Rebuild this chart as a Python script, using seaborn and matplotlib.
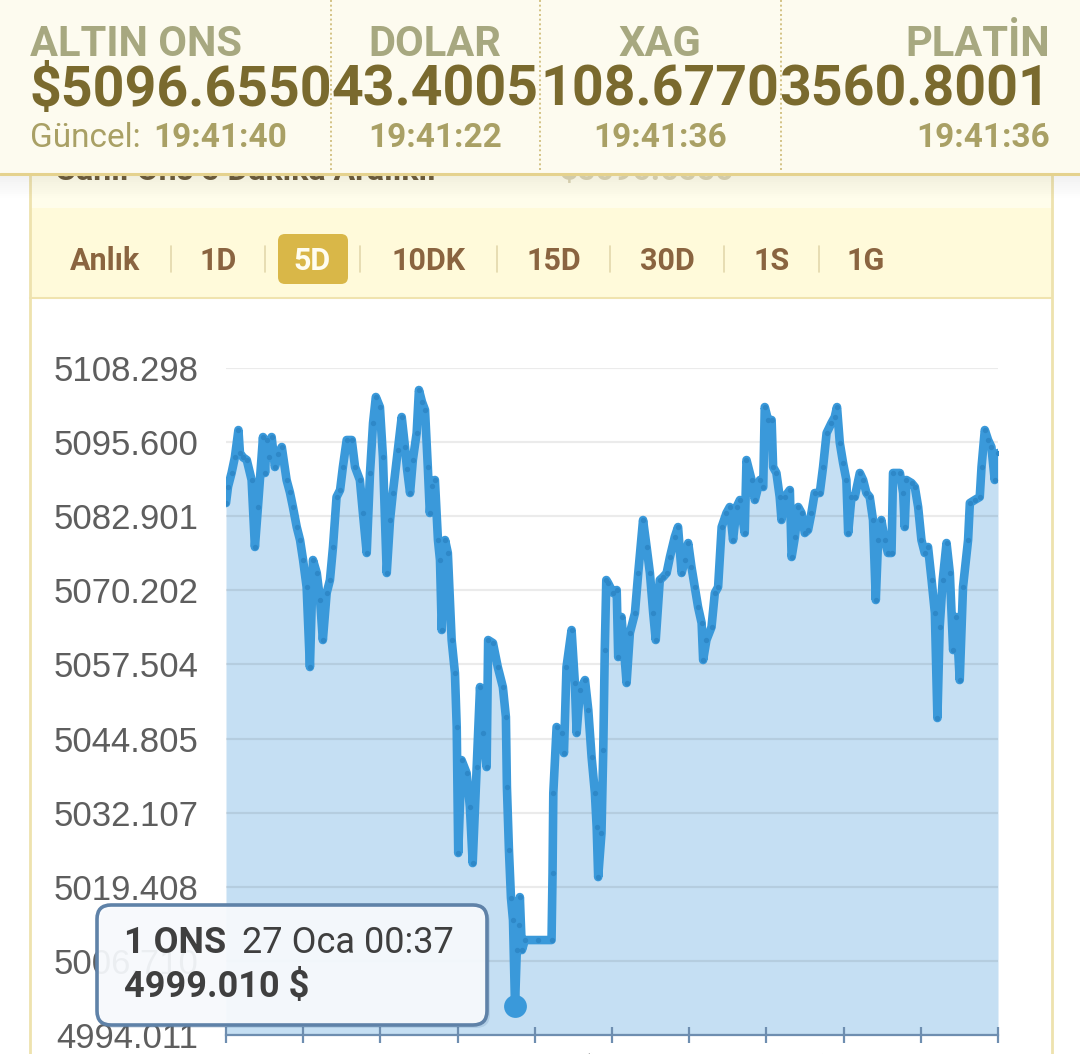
import numpy as np
import matplotlib.pyplot as plt
import seaborn as sns
from matplotlib.patches import Rectangle, FancyBboxPatch

# --- data (hours since 26 Oca 13:13, price in $) ---
hours = [
    0.00, 0.08, 0.22, 0.35, 0.49, 0.55, 0.67, 0.82, 1.01, 1.14,
    1.26, 1.46, 1.54, 1.60, 1.70, 1.80, 1.93, 2.05, 2.20, 2.39,
    2.52, 2.64, 2.79, 2.92, 3.04, 3.18, 3.31, 3.43, 3.58, 3.71,
    3.82, 3.97, 4.10, 4.22, 4.36, 4.50, 4.61, 4.76, 4.96, 5.09,
    5.28, 5.40, 5.55, 5.68, 5.80, 5.91, 6.07, 6.19, 6.34, 6.47,
    6.58, 6.78, 6.93, 7.06, 7.14, 7.26, 7.37, 7.52, 7.61, 7.73,
    7.85, 7.96, 8.04, 8.12, 8.24, 8.36, 8.44, 8.51, 8.64, 8.75,
    8.90, 9.03,
    9.10, 9.16, 9.29, 9.49, 9.62, 9.73, 9.89, 10.02, 10.13, 10.28,
    10.34, 10.53, 10.72, 10.92, 11.04, 11.08, 11.16, 11.24, 11.32, 11.40,
    11.47, 11.55, 11.59, 11.67, 11.79, 12.30, 12.84, 12.88, 12.91, 13.04,
    13.24, 13.33, 13.43, 13.63, 13.76, 13.83, 13.96, 14.16, 14.29, 14.42,
    14.55, 14.62, 14.68, 14.81, 14.88, 14.94, 15.00, 15.07, 15.27, 15.41,
    15.47, 15.60, 15.80, 15.93, 16.13, 16.26, 16.45, 16.59, 16.72, 16.85,
    16.95, 17.11, 17.24, 17.38, 17.51, 17.70, 17.83, 17.97, 18.10, 18.23,
    18.36, 18.49, 18.62, 18.76, 18.82, 18.95, 19.15, 19.28, 19.41, 19.55,
    19.74, 19.87, 20.00, 20.14, 20.27, 20.46, 20.53, 20.73, 20.86, 21.06,
    21.19, 21.25, 21.38, 21.52, 21.58, 21.71, 21.84, 21.91, 22.04, 22.24,
    22.31, 22.44, 22.57, 22.70, 22.83, 22.96, 23.09, 23.22, 23.42, 23.55,
    23.69, 23.88, 24.01, 24.10, 24.21, 24.34, 24.47, 24.54, 24.67, 24.80,
    25.00, 25.13, 25.26, 25.39, 25.52, 25.63, 25.72, 25.85, 25.98, 26.11,
    26.25, 26.31, 26.58, 26.71, 26.77, 26.84, 27.04, 27.17, 27.30, 27.43,
    27.56, 27.69, 27.83, 27.96, 28.06, 28.15, 28.27, 28.42, 28.55, 28.68,
    28.81, 28.94, 29.07, 29.27, 29.34, 29.53, 29.73, 29.80, 29.93, 30.06,
    30.19, 30.32, 30.45,
]
price = [
    5085.16, 5087.96, 5090.31, 5093.00, 5097.67, 5093.73, 5093.00, 5092.53, 5089.11, 5077.63,
    5084.48, 5096.47, 5090.31, 5095.96, 5093.00, 5096.47, 5091.33, 5093.50, 5094.76, 5089.11,
    5087.00, 5084.48, 5081.05, 5078.82, 5075.40, 5070.77, 5057.06, 5075.40, 5073.17, 5068.54,
    5061.69, 5069.74, 5071.97, 5077.63, 5086.19, 5087.39, 5091.33, 5095.96, 5095.96, 5091.33,
    5089.11, 5083.45, 5076.60, 5090.31, 5098.87, 5103.33, 5101.61, 5093.05, 5073.17, 5082.25,
    5086.88, 5094.25, 5099.90, 5094.76, 5091.00, 5086.88, 5092.53, 5097.16, 5104.53, 5102.50,
    5101.10, 5091.33, 5083.45, 5088.00, 5089.11, 5078.82, 5075.40, 5063.40, 5078.82, 5076.60,
    5061.69, 5056.03,
    5046.78, 5025.19, 5041.12, 5038.89, 5033.07, 5023.47, 5039.92, 5053.63, 5045.75, 5039.92,
    5061.69, 5061.17, 5057.06, 5053.63, 5048.49, 5036.50, 5025.70, 5017.50, 5013.70, 4999.01,
    5008.56, 5012.85, 5017.64, 5008.56, 5010.28, 5010.28, 5010.28, 5021.76, 5035.47, 5046.78,
    5045.75, 5042.32, 5057.06, 5063.40, 5054.32, 5045.75, 5053.12, 5054.83, 5049.69, 5041.64,
    5035.47, 5029.64, 5021.07, 5028.61, 5042.84, 5059.97, 5071.97, 5071.46, 5069.74, 5070.26,
    5058.77, 5065.63, 5054.32, 5062.89, 5066.31, 5073.17, 5082.25, 5077.63, 5073.17, 5066.31,
    5061.69, 5071.97, 5072.48, 5073.17, 5075.91, 5079.34, 5081.05, 5073.17, 5075.40, 5078.31,
    5074.20, 5070.77, 5067.34, 5064.60, 5058.26, 5061.69, 5063.91, 5069.74, 5070.77, 5081.05,
    5083.45, 5084.48, 5078.82, 5084.48, 5085.68, 5080.02, 5092.53, 5089.11, 5085.68, 5089.11,
    5087.90, 5101.61, 5099.39, 5099.39, 5091.33, 5090.31, 5086.19, 5082.25, 5086.19, 5087.39,
    5075.91, 5079.34, 5084.48, 5083.45, 5080.02, 5080.54, 5083.45, 5086.88, 5086.88, 5091.33,
    5097.16, 5098.87, 5099.90, 5101.61, 5095.45, 5092.02, 5089.11, 5080.02, 5086.19, 5086.19,
    5090.31, 5089.11, 5086.88, 5086.19, 5082.25, 5068.54, 5078.82, 5082.25, 5078.82, 5076.60,
    5076.60, 5090.31, 5090.31, 5086.88, 5081.05, 5089.11, 5088.59, 5087.90, 5084.48, 5078.82,
    5076.60, 5077.63, 5071.97, 5066.31, 5048.32, 5063.91, 5072.00, 5078.31, 5073.17, 5059.97,
    5065.63, 5054.83, 5070.77, 5078.82, 5085.16, 5085.68, 5086.19, 5091.33, 5097.67, 5095.96,
    5094.76, 5089.11, 5093.73,
]
y_ticks = [5108.298, 5095.600, 5082.901, 5070.202, 5057.504,
           5044.805, 5032.107, 5019.408, 5006.710, 4994.011]
x_tick_labels = ["13:13", "16:16", "19:18", "22:21", "01:24", "04:27",
                 "07:29", "10:32", "13:35", "16:38", "19:40"]
min_hour, min_price = 11.40, 4999.010
tip_time = "27 Oca 00:37"

names = ["ALTIN ONS", "DOLAR", "XAG", "PLATİN"]
values = ["$5096.6550", "43.4005", "108.6770", "3560.8001"]
times = ["19:41:40", "19:41:22", "19:41:36", "19:41:36"]
tabs = ["Anlık", "1D", "5D", "10DK", "15D", "30D", "1S", "1G"]
active_tab = "5D"

sns.set_theme(style="white")
plt.rcParams['font.family'] = ['Roboto', 'DejaVu Sans']

W, H = 1080, 1054
fig = plt.figure(figsize=(W / 100, H / 100), dpi=100)
fig.patch.set_facecolor('white')

# background layer (pixel coords, y down)
bg = fig.add_axes([0, 0, 1, 1], zorder=0)
bg.set_xlim(0, W)
bg.set_ylim(H, 0)
bg.axis('off')

bg.add_patch(Rectangle((30, 140), 1022, 68, fc='#FFFDEB', ec='none'))
bg.add_patch(Rectangle((30, 208), 1022, 90, fc='#FFFADA', ec='none'))
bg.plot([30, 1052], [298, 298], color='#F0E3AE', lw=1.5)
bg.plot([30, 30], [140, H], color='#EEE2AE', lw=2)
bg.plot([1052, 1052], [140, H], color='#EEE2AE', lw=2)
bg.text(55, 180, "Canlı Ons 5 Dakika Aralıklı", fontsize=23, weight='bold',
        color='#6E5E3E', va='baseline')
bg.text(560, 180, "$5096.6550", fontsize=23, weight='bold',
        color='#DDD6B4', va='baseline')

tab_x = [105, 218, 312, 429, 554, 667, 772, 866]
sep_x = [171, 265, 360, 497, 610, 724, 819]
for sx in sep_x:
    bg.plot([sx, sx], [246, 272], color='#E3D8AC', lw=1.2)
for t, tx in zip(tabs, tab_x):
    if t == active_tab:
        bg.add_patch(FancyBboxPatch((278, 234), 70, 50,
                                    boxstyle='round,pad=0,rounding_size=7',
                                    fc='#D9B748', ec='none'))
        col = '#FFFDF0'
    else:
        col = '#8A6440'
    bg.text(tx, 270, t, fontsize=22, weight='bold', color=col,
            ha='center', va='baseline')

# chart
ax = fig.add_axes([226 / W, 1 - 1035 / H, 772 / W, 667 / H], zorder=1)
ax.patch.set_alpha(0)
ax.fill_between(hours, price, y_ticks[-1], color='#C5DFF3', lw=0, zorder=1)
sns.lineplot(x=hours, y=price, ax=ax, color='#3A99DA', lw=6.2, marker='o',
             markersize=3.8, markerfacecolor='#2E88C8', markeredgewidth=0,
             zorder=3)
ax.scatter([min_hour], [min_price], s=270, color='#3A99DA', zorder=5,
           clip_on=False, linewidths=0)

ax.set_xlim(0, hours[-1])
ax.set_ylim(y_ticks[-1], y_ticks[0])
ax.set_yticks(y_ticks)
ax.set_yticklabels([f"{v:.3f}" for v in y_ticks])
ax.set_xticks(np.linspace(0, hours[-1], len(x_tick_labels)))
ax.set_xticklabels(x_tick_labels, rotation=45, ha='right')
ax.set_xlabel('')
ax.set_ylabel('')
ax.grid(axis='y', color='#000000', alpha=0.08, lw=1.6)
ax.grid(axis='x', visible=False)
ax.set_axisbelow('line')
for s in ['top', 'left', 'right']:
    ax.spines[s].set_visible(False)
ax.spines['bottom'].set_color('#6E8EB0')
ax.spines['bottom'].set_linewidth(1.6)
ax.tick_params(axis='y', length=0, pad=20, labelsize=25, labelcolor='#5E5E5E')
ax.tick_params(axis='x', direction='inout', length=11.5, width=1.6,
               color='#6E8EB0', pad=5, labelsize=22, labelcolor='#777777',
               bottom=True)
for lab in ax.get_yticklabels() + ax.get_xticklabels():
    lab.set_fontfamily('Liberation Sans')

# overlay layer: header + tooltip
ov = fig.add_axes([0, 0, 1, 1], zorder=2)
ov.set_xlim(0, W)
ov.set_ylim(H, 0)
ov.axis('off')
ov.patch.set_alpha(0)

for i in range(12):
    ov.add_patch(Rectangle((0, 174 + 2 * i), W, 2, fc='black', ec='none',
                           alpha=0.055 * (1 - i / 12)))
ov.add_patch(Rectangle((0, 0), W, 173, fc='#FDFBEF', ec='none'))
ov.plot([0, W], [173.5, 173.5], color='#E5D28E', lw=2.2)
for sx in [331, 540, 781]:
    ov.plot([sx, sx], [0, 172], color='#D3C285', lw=1.4, ls=(0, (1, 1.4)))

name_col, val_col, time_col = '#A7A880', '#7A6A2E', '#A9A065'
anchors = [(30, 'left'), (435, 'center'), (660, 'center'), (1050, 'right')]
for (hx, ha), n, v, t in zip(anchors, names, values, times):
    ov.text(hx, 56, n, fontsize=30, weight='bold', color=name_col, ha=ha, va='baseline')
    ov.text(hx, 106, v, fontsize=40, weight='bold', color=val_col, ha=ha, va='baseline')
    if hx == 30:
        ov.text(30, 147, "Güncel:", fontsize=24, color=time_col, ha='left', va='baseline')
        ov.text(153, 147, t, fontsize=24, weight='bold', color=time_col,
                ha='left', va='baseline')
    else:
        ov.text(hx, 147, t, fontsize=24, weight='bold', color=time_col,
                ha=ha, va='baseline')

# tooltip
ov.add_patch(FancyBboxPatch((100, 908), 390, 120,
                            boxstyle='round,pad=0,rounding_size=14',
                            fc='#3A6A9A', ec='none', alpha=0.15))
ov.add_patch(FancyBboxPatch((97, 905), 390, 120,
                            boxstyle='round,pad=0,rounding_size=14',
                            fc=(0.975, 0.985, 0.995, 0.92), ec='#5F82A8', lw=2.6))
ov.text(124, 953, "1 ONS", fontsize=26, weight='bold', color='#3F3F3F', va='baseline')
ov.text(242, 953, tip_time, fontsize=26, color='#3F3F3F', va='baseline')
ov.text(124, 997, f"{min_price:.3f} $", fontsize=26, weight='bold',
        color='#3F3F3F', va='baseline')

fig.savefig('out.png', dpi=100)
